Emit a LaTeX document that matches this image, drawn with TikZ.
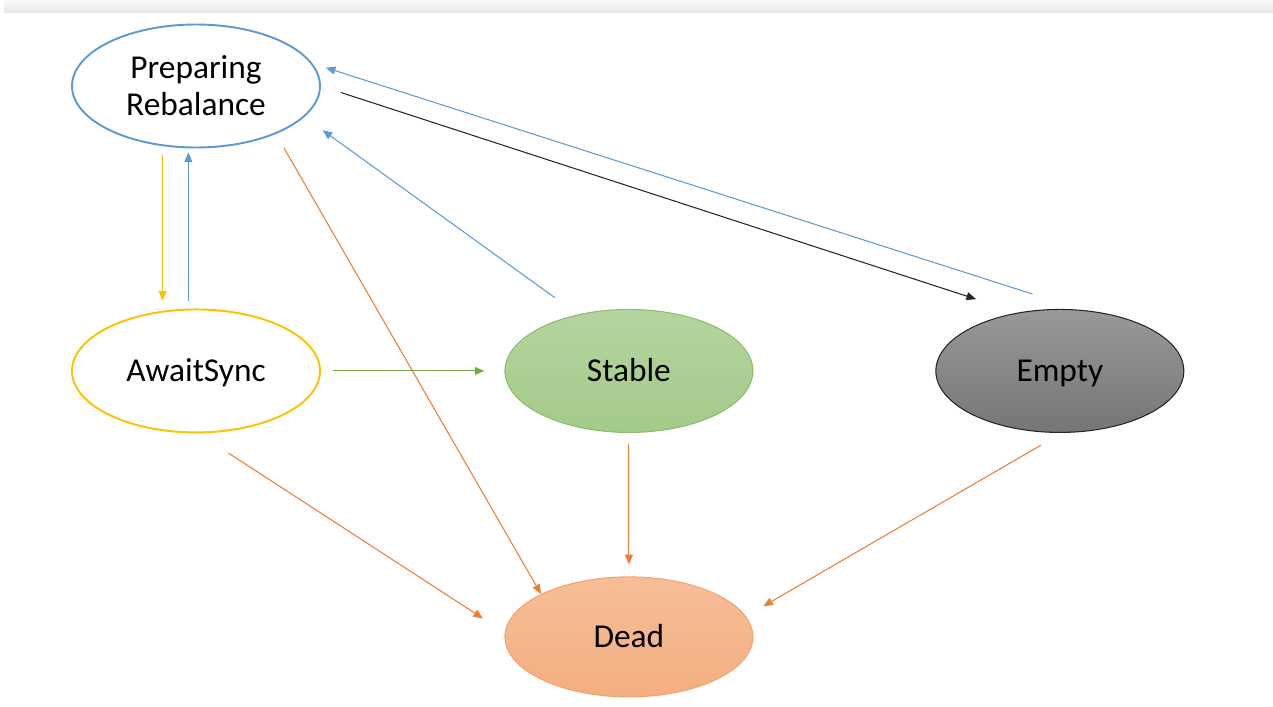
\documentclass[tikz,border=0pt]{standalone}
\usepackage{fontspec}
\setmainfont{Carlito}
\usetikzlibrary{arrows.meta,positioning,shapes.geometric}
\definecolor{msblue}{HTML}{5B9BD5}
\definecolor{msyellow}{HTML}{FFC000}
\definecolor{msgreen}{HTML}{70AD47}
\definecolor{msorange}{HTML}{ED7D31}
\definecolor{msdark}{HTML}{262626}
\begin{document}
\begin{tikzpicture}[
  x=0.02cm, y=0.02cm,
  state/.style={ellipse, draw, minimum width=4.96cm, minimum height=2.46cm, inner sep=0pt, align=center, font=\fontsize{19}{21}\selectfont},
  oneline/.style={state, text height=12.2pt, text depth=0pt},
  link/.style={-{Triangle[length=5.5pt,width=4.5pt]}, line width=0.6pt},
  node distance=5.7cm
]
\useasboundingbox (0,0) rectangle (1273,-706);
\fill[top color=gray!4, bottom color=gray!20] (4,0) rectangle (1273,-13);

\node[state, draw=msblue, line width=1.1pt] (prep) at (196,-86) {Preparing\\Rebalance};
\node[oneline, draw=msyellow, line width=1.1pt, below of=prep] (await) {AwaitSync};
\node[oneline, draw=msgreen!80, line width=0.6pt, top color=msgreen!52, bottom color=msgreen!64, right of=await, node distance=8.66cm] (stable) {Stable};
\node[oneline, draw=msdark, line width=0.6pt, top color=black!40, bottom color=black!54, right of=stable, node distance=8.62cm] (empty) {Empty};
\node[oneline, draw=msorange!70, line width=0.6pt, top color=msorange!50, bottom color=msorange!62, below of=stable, node distance=5.32cm, minimum height=2.4cm] (dead) {Dead};

\draw[link, msyellow, shorten <=0.18cm, shorten >=0.2cm] (prep.-119) -- (await.119);
\draw[link, msblue, shorten <=0.16cm, shorten >=0.08cm] (await.97) -- (prep.-97);
\draw[link, msorange, shorten <=0.32cm] (prep.-31) -- (dead.154);
\draw[link, msblue, shorten <=0.57cm, shorten >=0.45cm] (stable.132) -- (prep.-16);
\draw[link, msdark, shorten <=0.42cm, shorten >=0.87cm] (prep.0) -- (empty.126);
\draw[link, msblue, shorten <=1.04cm, shorten >=0.28cm] (empty.70) -- (prep.11);
\draw[link, msgreen, shorten <=0.24cm, shorten >=0.4cm] (await.east) -- (stable.west);
\draw[link, msorange, shorten <=0.72cm, shorten >=0.52cm] (await.-88) -- (dead.178);
\draw[link, msorange, shorten <=0.23cm, shorten >=0.24cm] (stable.south) -- (dead.north);
\draw[link, msorange, shorten <=0.48cm, shorten >=0.4cm] (empty.-88) -- (dead.10);
\end{tikzpicture}
\end{document}
